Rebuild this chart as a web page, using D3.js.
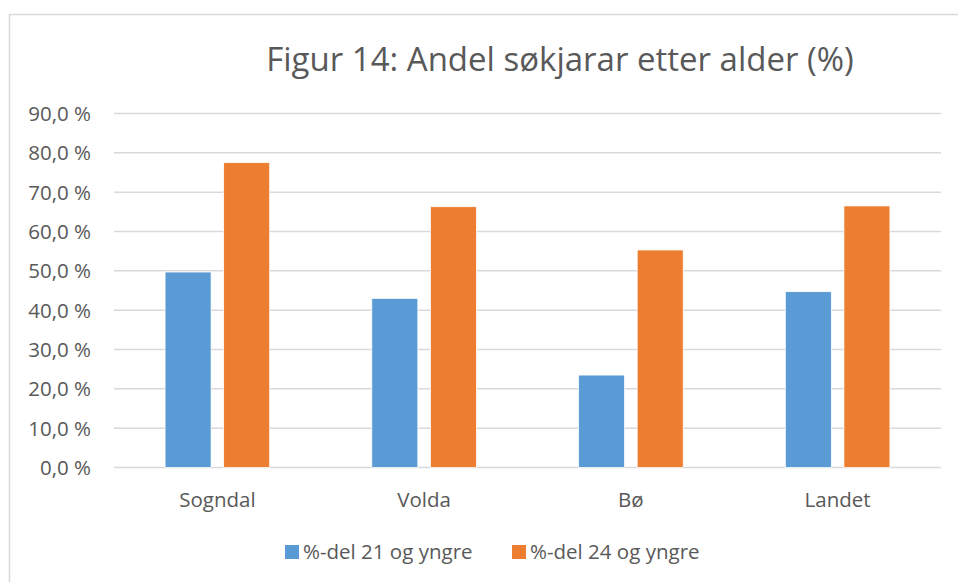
<!DOCTYPE html>
<html>
<head>
<meta charset="utf-8">
<script src="https://cdn.jsdelivr.net/npm/d3@7"></script>
<style>
  body { margin: 0; background: #fff; }
  text { font-family: "Open Sans", sans-serif; fill: #595959; }
</style>
</head>
<body>
<svg id="chart" width="958" height="582"></svg>
<script>
// data
const categories = ["Sogndal", "Volda", "Bø", "Landet"];
const seriesNames = ["%-del 21 og yngre", "%-del 24 og yngre"];
const under21 = [49.7, 43.0, 23.5, 44.7];
const under24 = [77.5, 66.3, 55.3, 66.5];
const yTicks = [0, 10, 20, 30, 40, 50, 60, 70, 80, 90];
const colors = ["#5b9bd5", "#ed7d31"];

const svg = d3.select("#chart");

// chart frame (only top and left edges are visible in the crop)
svg.append("path")
  .attr("d", "M9.5,582 V14.5 H958")
  .attr("fill", "none")
  .attr("stroke", "#d9d9d9")
  .attr("stroke-width", 1.5);

const margin = { left: 114, right: 941, top: 113.5, bottom: 467.5 };

const x = d3.scaleBand()
  .domain(categories)
  .range([margin.left, margin.right])
  .paddingInner(0.494)
  .paddingOuter(0.247);

const xInner = d3.scaleBand()
  .domain([0, 1])
  .range([0, x.bandwidth()])
  .paddingInner(0.215);

const y = d3.scaleLinear()
  .domain([0, 90])
  .range([margin.bottom, margin.top]);

// gridlines
svg.append("g")
  .selectAll("line")
  .data(yTicks)
  .join("line")
  .attr("x1", margin.left)
  .attr("x2", margin.right)
  .attr("y1", d => y(d))
  .attr("y2", d => y(d))
  .attr("stroke", "#d9d9d9")
  .attr("stroke-width", 1.5);

// y labels
const fmt = d => d.toFixed(1).replace(".", ",") + " %";
svg.append("g")
  .selectAll("text")
  .data(yTicks)
  .join("text")
  .attr("x", 91)
  .attr("y", d => y(d))
  .attr("dy", "0.36em")
  .attr("text-anchor", "end")
  .attr("font-size", 20.5)
  .text(fmt);

// bars
const rows = categories.map((c, i) => ({ cat: c, vals: [under21[i], under24[i]] }));
const groups = svg.append("g")
  .selectAll("g")
  .data(rows)
  .join("g")
  .attr("transform", d => `translate(${x(d.cat)},0)`);

groups.selectAll("rect")
  .data(d => d.vals.map((v, k) => ({ v, k })))
  .join("rect")
  .attr("x", d => xInner(d.k))
  .attr("width", xInner.bandwidth())
  .attr("y", d => y(d.v))
  .attr("height", d => y(0) - y(d.v))
  .attr("fill", d => colors[d.k])
  .attr("stroke", "#fff")
  .attr("stroke-width", 0.75);

// category labels
svg.append("g")
  .selectAll("text")
  .data(categories)
  .join("text")
  .attr("x", d => x(d) + x.bandwidth() / 2)
  .attr("y", 507)
  .attr("text-anchor", "middle")
  .attr("font-size", 20.5)
  .text(d => d);

// title
svg.append("text")
  .attr("x", 560)
  .attr("y", 71)
  .attr("text-anchor", "middle")
  .attr("font-size", 33)
  .text("Figur 14: Andel søkjarar etter alder (%)");

// legend
const legendX = [285, 512];
const legend = svg.append("g")
  .selectAll("g")
  .data(seriesNames)
  .join("g")
  .attr("transform", (d, i) => `translate(${legendX[i]},545)`);

legend.append("rect")
  .attr("width", 14)
  .attr("height", 14)
  .attr("fill", (d, i) => colors[i]);

legend.append("text")
  .attr("x", 18)
  .attr("y", 14)
  .attr("font-size", 20.5)
  .text(d => d);
</script>
</body>
</html>
